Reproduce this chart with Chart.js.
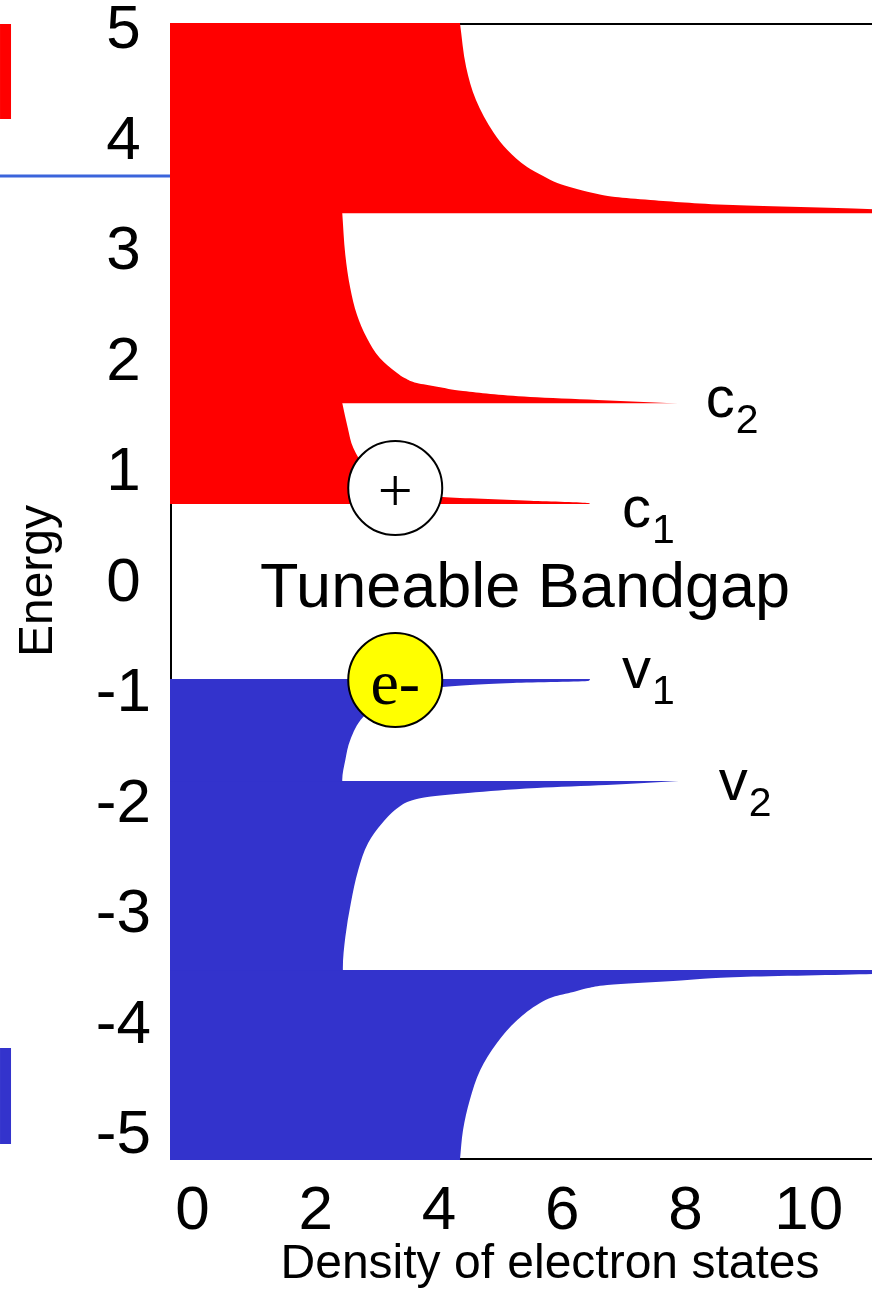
<!DOCTYPE html>
<html>
<head>
<meta charset="utf-8">
<title>Density of electron states</title>
<script src="https://cdn.jsdelivr.net/npm/chart.js@4.4.0/dist/chart.umd.min.js"></script>
<style>
  html, body { margin: 0; padding: 0; background: #fff; overflow: hidden; }
  #wrap { position: relative; width: 932px; height: 1290px; }
</style>
</head>
<body>
<div id="wrap"><canvas id="dos"></canvas></div>
<script>
// axis ranges and ticks
const X_MIN = -0.365, X_MAX = 12.0;
const Y_MIN = -5.217, Y_MAX = 5.072;
const xTickValues = [0, 2, 4, 6, 8, 10];
const yTickValues = [-5, -4, -3, -2, -1, 0, 1, 2, 3, 4, 5];

// conduction sub-bands (red), energy ascending
const c1Energy = [0.719, 0.728, 0.749, 0.782, 0.819, 0.868, 0.941, 1.036, 1.226, 1.407, 1.634];
const c1Dos    = [6.45, 6.42, 5.48, 4.06, 3.64, 3.32, 3.04, 2.83, 2.61, 2.52, 2.43];
const c2Energy = [1.628, 1.661, 1.688, 1.742, 1.781, 1.814, 1.857, 1.905, 2.041, 2.222, 2.430, 2.674, 2.973, 3.354];
const c2Dos    = [7.88, 6.57, 5.48, 4.39, 3.97, 3.64, 3.45, 3.32, 3.04, 2.83, 2.67, 2.56, 2.48, 2.43];
const c3Energy = [3.348, 3.389, 3.425, 3.471, 3.498, 3.534, 3.579, 3.624, 3.688, 3.769, 3.923, 4.077, 4.376, 4.674, 5.072];
const c3Dos    = [12.0, 10.95, 8.77, 7.43, 6.86, 6.50, 6.18, 5.92, 5.69, 5.43, 5.11, 4.89, 4.60, 4.44, 4.34];

// valence sub-bands (blue), energy ascending
const v1Energy = [-1.793, -1.778, -1.597, -1.416, -1.208, -1.090, -1.018, -0.973, -0.936, -0.900, -0.882, -0.864];
const v1Dos    = [2.43, 2.43, 2.48, 2.56, 2.77, 3.04, 3.32, 3.64, 4.06, 5.20, 6.42, 6.45];
const v2Energy = [-3.504, -3.480, -3.199, -2.891, -2.593, -2.348, -2.167, -2.023, -1.968, -1.932, -1.914, -1.896, -1.851, -1.824, -1.787];
const v2Dos    = [2.44, 2.44, 2.48, 2.57, 2.69, 2.85, 3.08, 3.35, 3.53, 3.81, 4.10, 4.47, 5.59, 6.72, 7.90];
const v3Energy = [-5.217, -4.946, -4.674, -4.403, -4.158, -3.950, -3.796, -3.742, -3.697, -3.661, -3.633, -3.597, -3.561, -3.534, -3.498];
const v3Dos    = [4.34, 4.39, 4.50, 4.67, 4.94, 5.27, 5.64, 5.85, 6.18, 6.42, 6.73, 7.80, 8.89, 11.03, 12.0];

// carriers drawn as circles
const carrierDos    = [3.29, 3.29];
const carrierEnergy = [0.864, -0.873];
const carrierText   = ['+', 'e-'];
const carrierFill   = ['#ffffff', '#ffff00'];

// sub-band names
const bandName   = ['c', 'c', 'v', 'v'];
const bandSub    = ['2', '1', '1', '2'];
const bandNameX  = [8.33, 6.97, 6.97, 8.54];
const bandNameE  = [1.507, 0.511, -0.946, -1.959];

// bits of the neighbouring panel at the left edge
const sideX = -3.034;
const sideRedE  = [4.204, 5.063];
const sideBlueE = [-5.072, -4.204];
const sideLineX = [-3.2, X_MIN];
const sideLineE = 3.688;

const RED = '#ff0000';
const BLUE = '#3333cc';
const SANS = '"Liberation Sans", Arial, sans-serif';
const SERIF = '"Liberation Serif", "Times New Roman", serif';

function band(energy, dos, color) {
    return {
        data: energy.map((e, i) => ({ x: dos[i], y: e })),
        backgroundColor: color,
        borderColor: 'rgba(0,0,0,0)',
        borderWidth: 0,
        fill: { value: X_MIN },
        pointRadius: 0,
        cubicInterpolationMode: 'monotone',
    };
}

function sideBar(xs, es, color, width) {
    return {
        data: es.map((e, i) => ({ x: Array.isArray(xs) ? xs[i] : xs, y: e })),
        borderColor: color,
        borderWidth: width,
        borderCapStyle: 'butt',
        pointRadius: 0,
        fill: false,
        clip: false,
    };
}

// frame under the filled bands
const frame = {
    id: 'frame',
    beforeDatasetsDraw(chart) {
        const { ctx, chartArea: a } = chart;
        ctx.save();
        ctx.strokeStyle = '#000';
        ctx.lineWidth = 2;
        ctx.strokeRect(a.left + 1, a.top + 1, a.right - a.left - 2, a.bottom - a.top - 2);
        ctx.restore();
    },
};

// labels: carriers, sub-band names, bandgap, axis titles
const textLayer = {
    id: 'textLayer',
    afterDatasetsDraw(chart) {
        const { ctx, scales: { x, y } } = chart;
        ctx.save();
        ctx.fillStyle = '#000';
        ctx.textBaseline = 'alphabetic';

        carrierText.forEach((t, i) => {
            const px = x.getPixelForValue(carrierDos[i]);
            const py = y.getPixelForValue(carrierEnergy[i]);
            ctx.textAlign = 'center';
            ctx.font = (i === 0 ? '62px ' : '64px ') + SERIF;
            ctx.fillText(t, px, py + (i === 0 ? 23 : 24));
        });

        bandName.forEach((n, i) => {
            const px = x.getPixelForValue(bandNameX[i]);
            const py = y.getPixelForValue(bandNameE[i]);
            ctx.textAlign = 'left';
            ctx.font = '58px ' + SANS;
            ctx.fillText(n, px, py);
            const w = ctx.measureText(n).width;
            ctx.font = '41px ' + SANS;
            ctx.fillText(bandSub[i], px + w + 1, py + 16);
        });

        ctx.textAlign = 'center';
        ctx.font = '63px ' + SANS;
        ctx.fillText('Tuneable Bandgap', x.getPixelForValue(5.396), y.getPixelForValue(-0.213));

        // axis titles
        ctx.font = '48px ' + SANS;
        ctx.fillText('Density of electron states', 550, 1278);
        ctx.translate(52, 581);
        ctx.rotate(-Math.PI / 2);
        ctx.fillText('Energy', 0, 0);
        ctx.restore();
    },
};

new Chart(document.getElementById('dos'), {
    type: 'line',
    data: {
        datasets: [
            {
                data: carrierDos.map((d, i) => ({ x: d, y: carrierEnergy[i] })),
                showLine: false,
                pointRadius: 47,
                pointStyle: 'circle',
                pointBackgroundColor: carrierFill,
                pointBorderColor: '#000',
                pointBorderWidth: 2,
            },
            band(c1Energy, c1Dos, RED),
            band(c2Energy, c2Dos, RED),
            band(c3Energy, c3Dos, RED),
            band(v1Energy, v1Dos, BLUE),
            band(v2Energy, v2Dos, BLUE),
            band(v3Energy, v3Dos, BLUE),
            sideBar(sideX, sideRedE, RED, 11),
            sideBar(sideX, sideBlueE, BLUE, 11),
            sideBar(sideLineX, [sideLineE, sideLineE], '#3b64db', 3),
        ],
    },
    options: {
        indexAxis: 'y',
        responsive: true,
        maintainAspectRatio: false,
        animation: false,
        events: [],
        layout: { autoPadding: false, padding: { top: 23, left: 0, right: 0, bottom: 0 } },
        plugins: { legend: { display: false }, tooltip: { enabled: false } },
        scales: {
            x: {
                type: 'linear',
                min: X_MIN,
                max: X_MAX,
                grid: { display: false },
                border: { display: false },
                ticks: { color: '#000', font: { family: SANS, size: 62 }, padding: 7, maxRotation: 0 },
                afterBuildTicks: s => { s.ticks = xTickValues.map(v => ({ value: v })); },
                afterFit: s => { s.height = 130; s.paddingLeft = 0; s.paddingRight = 0; },
            },
            y: {
                type: 'linear',
                min: Y_MIN,
                max: Y_MAX,
                grid: { display: false },
                border: { display: false },
                ticks: { color: '#000', font: { family: SANS, size: 62 }, padding: 11, crossAlign: 'center' },
                afterBuildTicks: s => { s.ticks = yTickValues.map(v => ({ value: v })); },
                afterFit: s => { s.width = 170; s.paddingTop = 0; s.paddingBottom = 0; },
            },
        },
    },
    plugins: [frame, textLayer],
});
</script>
</body>
</html>
